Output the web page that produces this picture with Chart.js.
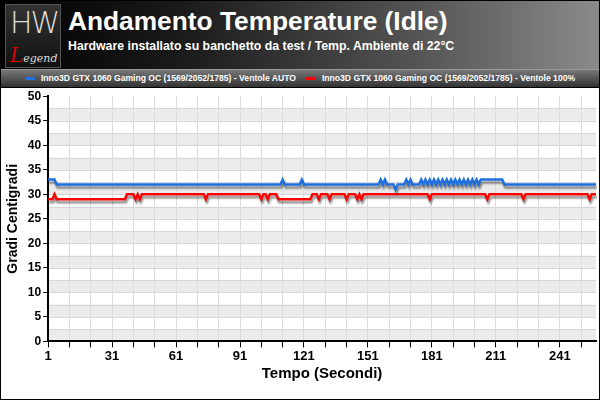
<!DOCTYPE html>
<html><head><meta charset="utf-8">
<script src="https://cdn.jsdelivr.net/npm/chart.js@4"></script>
<style>
html,body{margin:0;padding:0;background:#fff;}
#wrap{position:relative;width:598px;height:398px;border:1px solid #000;overflow:hidden;font-family:"Liberation Sans",Arial,sans-serif;}
#head{position:absolute;left:0;top:0;width:598px;height:68px;background:linear-gradient(90deg,#000 0%,#1a1a1a 30%,#555 70%,#8a8a8a 100%);}
#logo{position:absolute;left:4px;top:3px;width:54px;height:62px;background:linear-gradient(#333,#111);border:1px solid #555;}
#logo .hw{position:absolute;left:4px;top:0;color:#ddd;font:300 30px "DejaVu Sans",sans-serif;letter-spacing:-2px;}
#logo .lg{position:absolute;left:4px;top:38px;color:#ddd;font:italic 11px "DejaVu Serif",serif;}
#logo .lg b{color:#d00;font-size:20px;font-weight:normal;}
#title{position:absolute;left:67px;top:5px;color:#fff;font:bold 26.3px "Liberation Sans",Arial,sans-serif;}
#sub{position:absolute;left:67px;top:38px;color:#fff;font:bold 12.3px "Liberation Sans",Arial,sans-serif;}
#leg{position:absolute;left:0;top:68px;width:598px;height:17px;background:linear-gradient(#777,#333);border-top:1px solid #999;border-bottom:1px solid #000;color:#fff;font:bold 8.6px "Liberation Sans",Arial,sans-serif;line-height:17px;text-align:center;}
#leg span.k{display:inline-block;width:10px;height:3px;vertical-align:middle;margin-right:6px;}
#cv{position:absolute;left:0;top:86px;}
</style></head><body>
<div id="wrap">
<div id="head">
<div id="logo"><div class="hw">HW</div><div class="lg"><b>L</b>egend</div></div>
<div id="title">Andamento Temperature (Idle)</div>
<div id="sub">Hardware installato su banchetto da test / Temp. Ambiente di 22°C</div>
</div>
<div id="leg"><span class="k" style="background:#1e6fe0"></span>Inno3D GTX 1060 Gaming OC (1569/2052/1785) - Ventole AUTO<span style="margin-left:10px"></span><span class="k" style="background:#f00"></span>Inno3D GTX 1060 Gaming OC (1569/2052/1785) - Ventole 100%</div>
<canvas id="cv" width="598" height="312"></canvas>
</div>
<script>
const seriesNames = ["Inno3D GTX 1060 Gaming OC (1569/2052/1785) - Ventole AUTO","Inno3D GTX 1060 Gaming OC (1569/2052/1785) - Ventole 100%"];
// run-length encoded readings: [value, count]
const blueRuns = [[33,4],[32,106],[33,1],[32,8],[33,1],[32,36],[33,1],[32,1],[33,1],[32,4],[31,1],[32,4],[33,1],[32,1],[33,1],[32,4],
 [33,1],[32,1],[33,1],[32,1],[33,1],[32,1],[33,1],[32,1],[33,1],[32,1],[33,1],[32,1],[33,1],[32,1],[33,1],[32,1],[33,1],[32,1],[33,1],[32,1],[33,1],[32,1],[33,1],[32,1],[33,1],[32,1],[33,1],[32,1],
 [33,11],[32,44]];
const redRuns = [[29,3],[30,1],[29,33],[30,4],[29,1],[30,1],[29,1],[30,30],[29,1],[30,25],[29,1],[30,2],[29,1],[30,4],[29,16],[30,3],[29,1],[30,4],[29,1],[30,7],[29,1],[30,4],[29,1],[30,1],[29,1],[30,31],[29,1],[30,26],[29,1],[30,16],[29,1],[30,30],[29,1],[30,3]];
const yTicks = [0,5,10,15,20,25,30,35,40,45,50];
function expand(r){const o=[];r.forEach(([v,n])=>{for(let i=0;i<n;i++)o.push(v);});return o;}
const blueVals = expand(blueRuns), redVals = expand(redRuns);
const labels = blueVals.map((_,i)=>String(i+1));

const bands = {id:'bands',beforeDraw(c){const {ctx,chartArea:a,scales:{y}}=c;ctx.save();
  for(let v=0;v<50;v+=5){const t=y.getPixelForValue(v+2.5),b=y.getPixelForValue(v);ctx.fillStyle='#ebebeb';ctx.fillRect(a.left,t,a.right-a.left,b-t);
   ctx.fillStyle='#d6d6d6';ctx.fillRect(a.left,Math.round(t),a.right-a.left,1);ctx.fillRect(a.left,Math.round(b),a.right-a.left,1);}
  ctx.restore();}};
const shadow = {id:'shadow',beforeDatasetsDraw(c){c.ctx.save();c.ctx.shadowColor='rgba(0,0,0,0.45)';c.ctx.shadowOffsetX=1;c.ctx.shadowOffsetY=3;c.ctx.shadowBlur=2;},afterDatasetsDraw(c){c.ctx.restore();}};

new Chart(document.getElementById('cv'),{type:'line',
 data:{labels,datasets:[
  {label:seriesNames[0],data:blueVals,borderColor:'#1e6fe0',borderWidth:2.5,pointRadius:0,tension:0},
  {label:seriesNames[1],data:redVals,borderColor:'#ff0000',borderWidth:2.5,pointRadius:0,tension:0}]},
 options:{responsive:false,animation:false,
  layout:{padding:{top:8,right:3,left:0,bottom:16}},
  plugins:{legend:{display:false},tooltip:{enabled:false}},
  scales:{
   x:{offset:false,border:{color:'#000',width:2},
     grid:{color:(c)=>c.index%10===0?'#dcdcdc':'rgba(0,0,0,0)',tickColor:(c)=>c.index%10===0?'#000':'rgba(0,0,0,0)',tickLength:6,lineWidth:1,drawOnChartArea:true},
     ticks:{autoSkip:false,maxRotation:0,color:'#000',font:{family:'Liberation Sans',weight:'bold',size:13},padding:1,callback:(v,i)=>i%30===0?labels[i]:''},
     title:{display:true,text:'Tempo (Secondi)',color:'#000',font:{family:'Liberation Sans',weight:'bold',size:15},padding:{top:0,bottom:0}}},
   y:{min:0,max:50,border:{color:'#000',width:2},
     afterBuildTicks:(s)=>{s.ticks=yTicks.map(v=>({value:v}));},
     grid:{color:'rgba(0,0,0,0)',tickColor:'#000',tickLength:5},
     ticks:{color:'#000',font:{family:'Liberation Sans',weight:'bold',size:12},padding:2},
     title:{display:true,text:'Gradi Centigradi',color:'#000',font:{family:'Liberation Sans',weight:'bold',size:14}}}}},
 plugins:[bands,shadow]});
</script>
</body></html>
